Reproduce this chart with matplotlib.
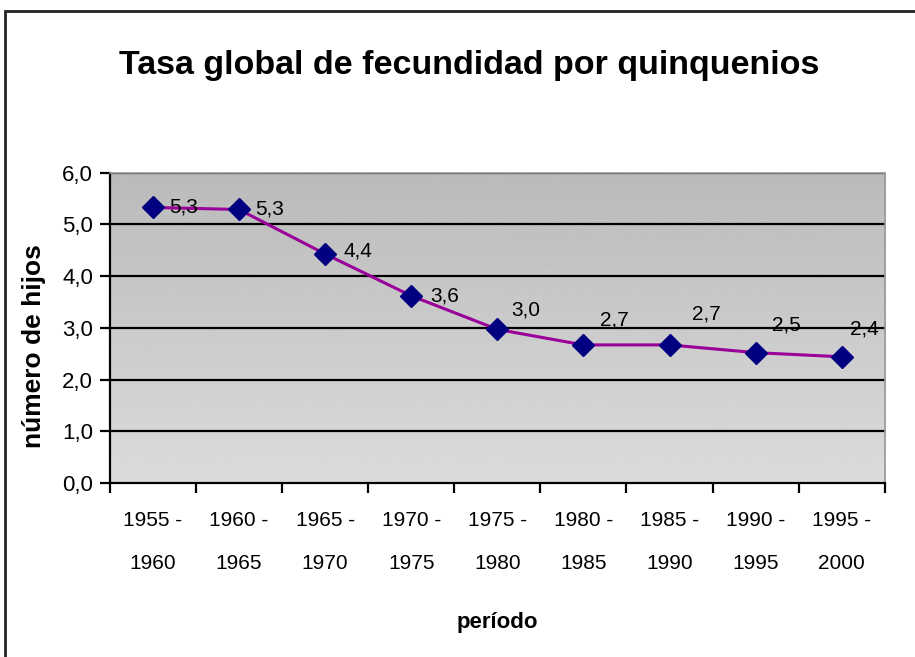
import matplotlib.pyplot as plt
import numpy as np
from matplotlib.patches import Rectangle

plt.rcParams["font.family"] = ["Liberation Sans", "DejaVu Sans"]

# Data
periods = ["1955 -\n1960", "1960 -\n1965", "1965 -\n1970", "1970 -\n1975", "1975 -\n1980",
           "1980 -\n1985", "1985 -\n1990", "1990 -\n1995", "1995 -\n2000"]
tgf = [5.33, 5.29, 4.43, 3.62, 2.97, 2.67, 2.67, 2.52, 2.44]
y_ticks = [0, 1, 2, 3, 4, 5, 6]

LINE = "#990099"
MARK = "#000080"

fig = plt.figure(figsize=(9.15, 6.57), dpi=100)
ax = fig.add_axes([0.120, 0.265, 0.847, 0.472])

x = np.arange(len(tgf))
ax.set_xlim(-0.5, len(tgf) - 0.5)
ax.set_ylim(0, 6)

# gray gradient background (darker at top, lighter at bottom)
grad = np.linspace(0.86, 0.73, 256).reshape(-1, 1)
ax.imshow(grad, cmap="gray", vmin=0, vmax=1, aspect="auto", origin="lower",
          extent=[0, 1, 0, 1], transform=ax.transAxes, zorder=0)

for yv in y_ticks[1:]:
    ax.axhline(yv, color="black", lw=1.6, zorder=1)

ax.plot(x, tgf, color=LINE, lw=2.2, zorder=2)
ax.plot(x, tgf, ls="none", marker="D", ms=11, color=MARK, zorder=3)

# data labels
dy = [0, 0, 2, 0, 14, 18, 22, 20, 20]
dx = [12, 12, 13, 14, 10, 12, 16, 12, 6]
for i, v in enumerate(tgf):
    ax.annotate(f"{v:.1f}".replace(".", ","), (x[i], v), xytext=(dx[i], dy[i]),
                textcoords="offset points", ha="left", va="center",
                fontsize=15, color="black", zorder=4)

ax.set_yticks(y_ticks)
ax.set_yticklabels([f"{t:.1f}".replace(".", ",") for t in y_ticks], fontsize=16)
ax.set_xticks(x)
ax.set_xticklabels(periods, fontsize=15, linespacing=2.6)
ax.set_xticks(np.arange(-0.5, len(tgf)), minor=True)
ax.tick_params(axis="x", which="major", length=0, pad=20)
ax.tick_params(axis="x", which="minor", length=7, width=1.6, direction="out")
ax.tick_params(axis="y", length=7, width=1.6, direction="out", pad=5)

for s in ["left", "bottom"]:
    ax.spines[s].set_linewidth(1.6)
    ax.spines[s].set_color("black")
for s in ["top", "right"]:
    ax.spines[s].set_color("#999999")
    ax.spines[s].set_linewidth(1.2)

ax.set_ylabel("número de hijos", fontsize=19, fontweight="bold")
ax.yaxis.set_label_coords(-0.082, 0.44)
ax.set_xlabel("período", fontsize=16, fontweight="bold", labelpad=28)

fig.text(0.513, 0.90, "Tasa global de fecundidad por quinquenios",
         ha="center", va="center", fontsize=24.5, fontweight="bold")

# outer chart frame (runs off right and bottom edge)
fig.patches.append(Rectangle((5 / 915, -0.05), 1.2, 1.05 - 11 / 657,
                             transform=fig.transFigure, fill=False,
                             edgecolor="#222222", lw=2))

fig.savefig("out.png", dpi=100, facecolor="white")
